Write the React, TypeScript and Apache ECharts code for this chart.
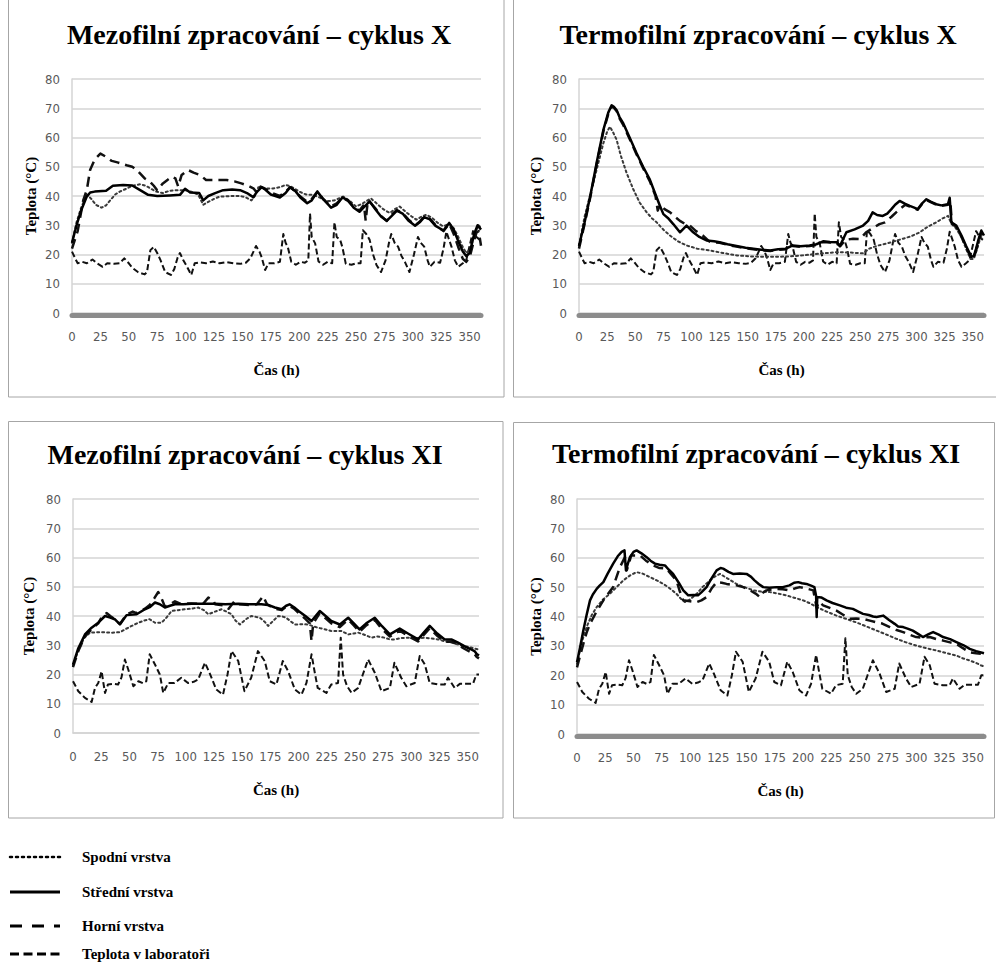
import React, { useEffect, useRef } from "react";
import * as echarts from "echarts";

type Pt = [number, number];

// ---------- DATA (hour, °C) ----------
const xTicks = [0, 25, 50, 75, 100, 125, 150, 175, 200, 225, 250, 275, 300, 325, 350];
const yTicks = [0, 10, 20, 30, 40, 50, 60, 70, 80];

const seriesNames = ["Spodní vrstva", "Střední vrstva", "Horní vrstva", "Teplota v laboratoři"];
const panelTitles = [
  "Mezofilní zpracování – cyklus X",
  "Termofilní zpracování – cyklus X",
  "Mezofilní zpracování – cyklus XI",
  "Termofilní zpracování – cyklus XI",
];
const xAxisTitle = "Čas (h)";
const yAxisTitle = "Teplota (°C)";

const labX: Pt[] = [[0,21],[3,18.5],[5,17],[9,17.5],[13,17],[18,18.3],[22,17],[27,15.8],[31,17],[37,16.8],[42,17],[46,18.7],[50,17],[53,15.5],[58,14],[64,13.2],[66,14],[69,21.5],[72,22.6],[75,20.5],[78,18],[82,14],[87,13],[90,15],[93,19],[95,20.5],[98,18],[101,16],[105,13],[108,17],[112,17.3],[118,17],[124,17.6],[130,17],[136,17.4],[142,17],[148,16.8],[153,17.2],[157,18.7],[162,22.9],[165,21],[167,19],[170,14.7],[173,17],[178,17],[183,17.5],[186,27],[188,24],[190,22.5],[193,17.5],[197,16.5],[201,17.5],[205,17.2],[208,18],[209.5,34],[211,26],[214,23.8],[217,17.6],[221,16.5],[225,17.5],[229,17],[231,31],[233,26],[236,25],[238,22.5],[241,16.8],[246,16.5],[250,17],[254,17],[256,28.3],[259,27],[262,25],[265,20],[268,16.4],[272,14],[276,18],[279,24],[281,27],[284,24],[287,22.7],[290,19.5],[293,17.5],[297,14],[301,20],[304.5,26],[307,24],[310,22.7],[313,18],[315,15.8],[319,17.5],[324,17.2],[327,22],[329.5,27.8],[332,25],[334,22.7],[337,18],[340,15.8],[344,17],[347,18],[350,23],[353,28],[356,26],[359,25]];

const labXI: Pt[] = [[0,17.7],[4.7,14.3],[10.6,12],[16.5,10.6],[19.5,15.4],[22.4,17.1],[25.4,21.1],[27,17],[28.4,13.7],[31,16.6],[36,16.8],[40,16.6],[43,19],[46,25.1],[49,21.7],[53.5,16],[58,17.7],[62,17],[65,17.7],[68,26.9],[72.7,23.4],[77,20],[80,13.7],[84.5,17.1],[90,17.1],[96,18.9],[102,17.1],[107,17.5],[111,18.3],[117,24],[121,20.6],[127,14.9],[133,13.1],[137,20],[140.6,28],[146.5,24.6],[152,14.3],[158,18.9],[164,28],[170,24.6],[174.5,17.7],[180.4,16.6],[186,24.6],[190.8,21.1],[196.7,14.9],[202.6,13.1],[207,17.1],[211.5,26.9],[214.4,20.6],[217,15.4],[224.7,13.7],[229,16.6],[235,17.1],[237.4,32.6],[239.5,20],[243,16],[247,13.7],[252.8,15.4],[257,20],[261.7,25.1],[267.6,20.6],[273.5,14.3],[281,15.4],[285,24],[291,18.9],[295.6,16],[303,17.1],[307.4,26.3],[312,23.4],[316.3,17.1],[323.7,16.6],[329.6,16.6],[332.5,18.9],[338.4,15.4],[343,16.8],[347,16.8],[354.7,16.8],[357.6,20],[360,20]];

const mezoXSpodni: Pt[] = [[0,24],[4,31],[8,36],[13,40.5],[17,39],[21,37],[26,36],[30,36.8],[34,38.7],[38,40.5],[42,41.5],[48,42.5],[53,43.5],[60,44],[65,43.5],[69,42.6],[74,41.5],[80,41],[86,41.8],[92,42],[99,42],[105,41.5],[111,40.5],[115.5,37],[120,38],[125,39],[130,39.8],[140,40],[148,40],[153,39.5],[158,38.5],[161,40],[164,43],[170,42.5],[177,42.6],[183,43],[188,43.8],[193,43.2],[200,41.5],[206,40.5],[212,40.4],[218,39.5],[224,38.2],[231,38.5],[238.6,39.8],[244,38.5],[250,36.4],[256,37.5],[263,39.2],[268,37.5],[274,35.5],[279.7,34.2],[284,35.5],[288.5,36.4],[294,34.5],[299,33],[303,31.9],[308,33],[312,33.6],[317,32.5],[322,30.8],[326.6,29.6],[332,30.5],[336,29],[340,26],[344,22.5],[347,20.5],[350,21.5],[353,25],[356,28.5],[358,30],[360,29]];
const mezoXStredni: Pt[] = [[0,24],[4,30],[8,35],[13,39.8],[16,41.2],[20,41.5],[30,41.8],[36,43.5],[45,43.8],[53,43.6],[60,42],[67,40.4],[75,40],[86,40.2],[95,40.4],[99.5,42.5],[104,41.2],[112,41],[115.5,38.5],[120,40],[126,41],[133,42],[141,42.2],[148,42],[154,41],[159.5,39.6],[163,41.5],[167,43],[170,42.2],[175,40.5],[183,39.5],[188,41],[192,43],[197,41.5],[201,39.5],[207,37.5],[211,38.5],[216,41.5],[221,39],[228,36],[233,37],[238,39.5],[243,38.5],[248,36],[253,34.6],[257,36.2],[262,38.2],[267,35.5],[272,33],[277,31.5],[281,33],[286,35],[291,34],[296,31.6],[302,29.8],[306,31],[310,32.8],[315,32],[320,29.8],[327,28.2],[332,30.8],[336,28.5],[340,24.5],[344,21],[347,19.5],[350,20.5],[354,27],[357,30],[360,28.5]];
const mezoXHorni: Pt[] = [[0,22],[5,28],[10,38.7],[13,42],[16,49],[20,52.5],[25,54.5],[30,53.4],[35,52],[40,51.5],[48,50.5],[53,50],[57,48.9],[64,46],[68.6,44.9],[72,43.5],[75,42],[80,44.3],[84,45.5],[88,46.6],[91,46],[93.5,43.2],[96.5,47.2],[102,48.9],[107,48],[112.6,47.2],[118,45.5],[125,45.5],[136,45.5],[143,45],[149,44.3],[155,43.5],[160,42.5],[163,41],[166,43.2],[170,42.5],[176,41],[183,40],[188,41.5],[192,43],[197,41.5],[201,39.8],[207,38],[211,39],[216,41.5],[221,39],[228,36.4],[233,37.5],[238,39.5],[243,38.3],[248,36.2],[253,35],[257,37],[258.5,31.5],[260,37],[262,38],[267,35.8],[272,33.2],[277,31.5],[281,33.5],[286,35.2],[291,34.2],[296,32],[302,30],[306,31.2],[310,33],[315,32.2],[320,30],[327,28],[332,30.5],[336,27],[340,22.5],[344,18.5],[347,17.5],[350,19],[353,23.5],[356,27.5],[358,28],[360,23]];

const termoXSpodni: Pt[] = [[0,23],[5,33],[9,39],[12.7,44.5],[17,51],[21.6,58],[25,62],[27.5,63.7],[30,62],[33.5,59.2],[37,54],[42.3,47.9],[48,42.5],[54,37.7],[60,34.5],[65,32.3],[69,31],[75,28.5],[80.8,26.5],[88,24.5],[95.6,23.1],[105,22],[116,21.4],[128,20.5],[140,19.7],[155,19.3],[170,19.2],[185,19.3],[199,19.7],[214,20.3],[229,20.8],[240,20.7],[252.5,20.4],[258,22],[265,23],[273,23.7],[280,24.5],[288,25.4],[295,26.2],[303,27.6],[310,29.5],[317.6,31],[323,32.3],[328,33.2],[331,30.5],[335,29],[340,26],[344,22],[348,18.5],[351,18.5],[354,22],[357,26],[360,25.5]];
const termoXStredni: Pt[] = [[0,23],[5,31],[10,40],[16,52],[21.6,62.5],[26,68.5],[29,71],[31,70.5],[33.5,69.3],[36,67],[39.4,64.8],[45,60],[51.2,54.6],[57,50],[63,45.6],[68,40.5],[72,36.6],[75,33.8],[79,32.5],[83.8,30.4],[89.7,27.6],[95.6,29.9],[101.5,27.6],[107,26],[113.4,24.8],[120,24.5],[125,24.2],[132,23.5],[140,22.9],[148,22.3],[155,22],[162,21.6],[170,21.4],[177,21.8],[184,22],[190,23.1],[197,22.8],[205,23.1],[211,23.5],[217,24.5],[223,24.3],[229,24.2],[232,23],[237.7,27.6],[245,28.6],[252.5,29.9],[257,31.5],[261,34.4],[265,33.5],[270,33.2],[274,34],[277.7,35.5],[281,37],[285,38.3],[290,37.3],[294,36.6],[298,36],[301,35.5],[305,37.5],[308.8,38.9],[313,38],[317.6,37.2],[322,36.8],[328,37.2],[329.5,39.4],[331,31],[335.4,29.9],[340,26.5],[344,23],[348.7,19.2],[351,19.5],[353,22],[355,25],[357.6,28.2],[360,26.5]];
const termoXHorni: Pt[] = [[0,22],[5,30.5],[10,39.5],[16,51.5],[21.6,62],[26,68],[29,70.5],[31,70.2],[33.5,69],[36,66.5],[39.4,64.2],[45,59.5],[51.2,54.2],[57,49.5],[63,45],[68,40],[70,35],[72,37],[76,35.5],[81,34.4],[85,33],[89.7,31.5],[94,30.5],[98.6,29.9],[104,28],[110,26.5],[116,24.4],[120,24.2],[125,24],[132,23.3],[140,22.7],[148,22.1],[155,21.8],[162,21.4],[170,21.2],[177,21.6],[184,21.8],[187,24],[190,22.9],[197,22.6],[205,22.9],[211,23.3],[217,24.3],[223,24.1],[229,24],[232,22.8],[237,25],[243.6,25.4],[250,25.3],[255,27.5],[261,29],[267,30.4],[272,31],[278,33],[285,35.5],[290,37],[294,36.4],[298,35.8],[301,35.3],[305,37.3],[308.8,38.6],[313,37.8],[317.6,37],[322,36.6],[328,37],[330,38.5],[331.5,30.5],[335.4,29.5],[340,26],[344,22.5],[348.7,18.8],[351,19],[353,21.5],[355,24.5],[357.6,27.5],[360,26]];

const mezoXISpodni: Pt[] = [[0,23],[5,28.5],[10,32.5],[15,34.3],[25,34.5],[35,34.3],[42,34.5],[46,35.4],[52,36.6],[58,37.7],[63,38.4],[68,38.9],[72.7,37.7],[78.5,37.7],[83,39.5],[87.4,41.7],[93,42],[99,42.3],[105,42.5],[111,42.9],[116,42],[120,40.6],[126,41.5],[131.7,42.3],[136,41.5],[140.6,40.6],[144,38.5],[148,37.1],[153,38.8],[158,40],[162,39.7],[165.7,39.4],[170,38],[173,36.6],[178,38.5],[182,40],[186,39.8],[189,39.4],[193,38.2],[196.7,37.1],[203,37.2],[208.5,37.1],[213,36.5],[217,36],[223,35.5],[229,34.9],[238,34.9],[244,33.7],[249,34],[253,34.3],[259,33.5],[264.6,32.6],[270,33],[276,32.6],[281,32],[285,32],[292,32.5],[300,32.6],[306,32.4],[312,32.6],[318,32.3],[323.7,32],[330,31.3],[335.5,30.9],[341,30.3],[347,29.7],[353,29.2],[360,28.5]];
const mezoXIStredni: Pt[] = [[0,23.4],[4.7,29],[10.6,33.7],[16.5,36],[22.4,37.7],[28.4,40],[33,39.5],[37,38.9],[41.6,37.1],[47.5,40.3],[56.4,40.6],[63.8,42.3],[68,43],[72.7,44.6],[77,44],[81.5,42.9],[86,43.5],[90.4,44],[98,44],[105,44.2],[115,44.2],[125.8,44.2],[135,44],[146.5,44.2],[156,44],[167,44],[173,43.8],[179,42.9],[185,42.3],[189,43.5],[192,44],[196,43],[200,41.7],[206,40],[211.5,38.3],[218.8,41.7],[224,40],[229,38.3],[236.6,37.1],[244,39.4],[249,37.5],[254,35.4],[260,37.5],[267.6,39.4],[274,36.5],[281,33.7],[289.7,35.7],[297,34],[306,32],[311,34.3],[316.3,36.6],[323,34],[329.6,32],[335.5,32],[341,31],[347,29.7],[352,28.8],[356,28],[358,27],[360,26.5]];
const mezoXIHorni: Pt[] = [[0,22.5],[4.7,28],[10.6,33],[16.5,35.5],[22.4,37.5],[26,40],[30,41],[33,40],[37,38.9],[41.6,37.3],[47.5,40.5],[53,41.5],[56.4,41],[63.8,42.5],[68,43.8],[72,46],[75.6,48.2],[78,46.5],[81.5,43.2],[86,44],[90.4,45],[95,44.2],[105,44.3],[115,44],[120,46.3],[124,45.5],[126,44],[135,43.5],[138,42.5],[143,45],[146.5,44],[156,43.8],[163,44],[168.6,46.8],[172,44],[179,42.5],[185,42],[189,43.2],[192,43.5],[196,42.5],[200,41],[206,39],[210,37.5],[211.5,31.4],[213,37.5],[218.8,41],[224,39.2],[229,37.5],[236.6,36.2],[244,38.8],[249,36.8],[254,34.6],[260,36.8],[267.6,38.6],[274,35.5],[281,33],[289.7,35],[297,33.2],[306,31.3],[311,33.5],[316.3,35.8],[323,33.2],[329.6,31.2],[335.5,31.3],[341,30.3],[347,28.8],[352,27.8],[356,27],[358,26],[360,25.5]];

const termoXISpodni: Pt[] = [[0,23.9],[4,31],[8.5,36.4],[13,40.5],[17.4,43.2],[23,45.8],[29,47.7],[35,50],[41,52.3],[47,54],[52.7,55.1],[58,54.6],[64.5,53.4],[70,52.4],[76.3,51.1],[82,49.6],[88,47.7],[92,46],[95.5,44.9],[100,45.8],[105.8,47.7],[111,50],[117.6,52.3],[122,53.6],[126.4,54.5],[133,53],[141,51.1],[148,50],[156,48.9],[163,48.5],[170.6,48.3],[178,47.8],[185,47.2],[192,46.4],[200,45.5],[206,44.5],[212,43.2],[220,41.8],[229.5,40.3],[238,39.2],[247,38],[256,36.6],[265,35.2],[274,33.8],[282.6,32.4],[291,31.2],[300,30.1],[309,29.2],[318,28.4],[327,27.5],[335.6,26.7],[341,25.8],[347.4,25],[353,24.2],[357.7,23.3],[360,23]];
const termoXIStredni: Pt[] = [[0,24.4],[3,30],[5.6,35.2],[8.5,40.5],[11.5,45.5],[14,47.5],[17.4,49.4],[20,50.5],[23.3,51.7],[27,54.5],[32,58],[36,60.5],[39.5,62],[42,62.5],[43.3,55.7],[45,58],[46.8,60.2],[50,62],[52.7,62.5],[57,61.5],[61.6,60.2],[65,59],[69,58],[73,57.6],[77.8,57.4],[81,56],[85,54.5],[90,51.5],[94,48.9],[98.4,47.2],[103,47.3],[107,47.2],[110,48.2],[114.6,50],[119,53],[123.5,55.7],[127,56.5],[129.3,56.3],[134,55.2],[138,54.5],[144,54.6],[150,54.5],[154,53.5],[157,52.3],[161,51],[164.7,50],[170,49.8],[176.5,50],[182,50],[188,50.6],[192,51.5],[195.6,51.7],[199,51.3],[203,51.1],[207,50.5],[210,50],[211.5,47],[212,39.8],[212.5,46.6],[216,46.5],[220.7,45.5],[226,44.6],[232.5,43.8],[238,43],[244,42.6],[248,41.8],[253,40.9],[258,40.5],[262,40],[265,39.8],[270.8,40.3],[276,38.8],[281,37.5],[284,36.6],[288.5,36.4],[293,35.8],[297,35.2],[302,34],[306,33],[311,34],[315,34.7],[320,33.8],[323.8,33],[330,32.3],[335.6,31.3],[342,30.2],[347.4,29],[353,28.2],[360,27.5]];
const termoXIHorni: Pt[] = [[0,22.7],[3,27],[5.6,30.7],[8.5,34.5],[11.5,37.5],[17,41.5],[23.3,45.5],[27,47.5],[32,50],[35,53.5],[38,56.8],[42.4,60.2],[44,55.7],[48,60.8],[55.7,60.8],[61,59],[67.5,57.4],[73,56.5],[79,56.3],[83,54.5],[88,52.3],[91,48.5],[94,45.5],[100,45.2],[105.8,44.9],[110,45.5],[114.6,46.6],[119,49.5],[123.5,51.7],[128,51.5],[132.3,51.1],[137,50.8],[141,50.6],[147,50],[153,48.9],[158,47.8],[161.8,46.6],[164,48],[167.6,48.9],[172,49.2],[176.5,49.4],[182,49.3],[188,48.9],[193,49.6],[197,50],[203,49.5],[209,48.9],[212,43],[214,45],[217.7,43.8],[223,43],[229.5,42],[235,40.7],[241.3,39.2],[247,39.3],[253,39.2],[259,38.6],[265,38],[270,37.6],[276.7,36.4],[282,35.5],[288.5,34.7],[294,33.8],[300,33],[306,32.8],[312,33],[318,32.3],[323.8,31.8],[330,31.2],[335.6,30.7],[341,29.3],[347.4,27.8],[353,27.5],[360,27.2]];

// ---------- STYLE ----------
const SERIF = "'Liberation Serif', 'Times New Roman', serif";
const NARROW = "'Liberation Sans Narrow', 'DejaVu Sans Condensed', 'Roboto Condensed', Roboto, sans-serif";
const LABEL_GRAY = "#595959";
const GRID_GRAY = "#d4d4d4";
const BORDER_GRAY = "#a6a6a6";

const lineStyles = [
  { color: "#3a3a3a", width: 2, type: [2, 3] as number[] },
  { color: "#000000", width: 2.5, type: "solid" as const },
  { color: "#111111", width: 2.5, type: [10, 6] as number[] },
  { color: "#111111", width: 2, type: [6, 3] as number[] },
];

interface PanelCfg {
  title: string;
  cx: number;
  cy: number;
  grid: { left: number; top: number; width: number; height: number };
  floor: boolean;
  yNameGap: number;
  data: Pt[][]; // spodni, stredni, horni, lab
}

const panels: PanelCfg[] = [
  { title: panelTitles[0], cx: 259, cy: 34, grid: { left: 72, top: 79, width: 409, height: 234 }, floor: true, yNameGap: 34, data: [mezoXSpodni, mezoXStredni, mezoXHorni, labX] },
  { title: panelTitles[1], cx: 758, cy: 34, grid: { left: 579, top: 79, width: 405, height: 234 }, floor: true, yNameGap: 36, data: [termoXSpodni, termoXStredni, termoXHorni, labX] },
  { title: panelTitles[2], cx: 245, cy: 454, grid: { left: 73, top: 499, width: 406, height: 234 }, floor: false, yNameGap: 37, data: [mezoXISpodni, mezoXIStredni, mezoXIHorni, labXI] },
  { title: panelTitles[3], cx: 756, cy: 453, grid: { left: 577, top: 499, width: 407, height: 235 }, floor: true, yNameGap: 34, data: [termoXISpodni, termoXIStredni, termoXIHorni, labXI] },
];

const legendRows = [857, 892, 926, 954];
const legendDash: (number[] | null)[] = [[2, 4], null, [12, 10], [9, 4.5]];

function buildOption() {
  const titles = panels.map((p) => ({
    text: p.title,
    left: p.cx,
    top: p.cy,
    textAlign: "center",
    textVerticalAlign: "middle",
    padding: 0,
    textStyle: { fontFamily: SERIF, fontWeight: "bold", fontSize: 28, color: "#000" },
  }));

  const grids = panels.map((p) => ({ ...p.grid, containLabel: false }));

  const xAxes = panels.map((p, i) => ({
    type: "value",
    gridIndex: i,
    min: xTicks[0],
    max: 360,
    interval: xTicks[1] - xTicks[0],
    offset: p.floor ? 2 : 0,
    name: xAxisTitle,
    nameLocation: "middle",
    nameGap: p.floor ? 47 : 49,
    nameTextStyle: { fontFamily: SERIF, fontWeight: "bold", fontSize: 15, color: "#000" },
    axisLine: {
      show: true,
      onZero: false,
      lineStyle: p.floor ? { color: "#8c8c8c", width: 5 } : { color: GRID_GRAY, width: 1.5 },
    },
    axisTick: { show: false },
    splitLine: { show: false },
    axisLabel: {
      showMaxLabel: false,
      margin: p.floor ? 15 : 17,
      color: LABEL_GRAY,
      fontSize: 13,
      fontFamily: NARROW,
    },
  }));

  const yAxes = panels.map((p, i) => ({
    type: "value",
    gridIndex: i,
    min: yTicks[0],
    max: yTicks[yTicks.length - 1],
    interval: yTicks[1] - yTicks[0],
    name: yAxisTitle,
    nameLocation: "middle",
    nameRotate: 90,
    nameGap: p.yNameGap,
    nameTextStyle: { fontFamily: SERIF, fontWeight: "bold", fontSize: 15, color: "#000" },
    axisLine: { show: true, lineStyle: { color: GRID_GRAY, width: 1.5 } },
    axisTick: { show: false },
    splitLine: { show: true, lineStyle: { color: GRID_GRAY, width: 1.5 } },
    axisLabel: { margin: 12, color: LABEL_GRAY, fontSize: 13, fontFamily: NARROW },
  }));

  const order = [3, 0, 2, 1]; // draw lab first, solid last
  const series: any[] = [];
  panels.forEach((p, i) => {
    order.forEach((k, zi) => {
      series.push({
        type: "line",
        name: seriesNames[k],
        xAxisIndex: i,
        yAxisIndex: i,
        data: p.data[k],
        showSymbol: false,
        symbol: "none",
        smooth: false,
        z: 2 + zi,
        lineStyle: { ...lineStyles[k], cap: k === 0 ? "round" : "butt", join: "round" },
        emphasis: { disabled: true },
      });
    });
  });

  const graphics: any[] = [
    { type: "rect", silent: true, shape: { x: 8.5, y: -10, width: 495.5, height: 407 }, style: { fill: "none", stroke: BORDER_GRAY, lineWidth: 1 } },
    { type: "rect", silent: true, shape: { x: 513.5, y: -10, width: 500, height: 407 }, style: { fill: "none", stroke: BORDER_GRAY, lineWidth: 1 } },
    { type: "rect", silent: true, shape: { x: 8.5, y: 421.5, width: 494.5, height: 396.5 }, style: { fill: "none", stroke: BORDER_GRAY, lineWidth: 1 } },
    { type: "rect", silent: true, shape: { x: 513.5, y: 422.5, width: 481, height: 395.5 }, style: { fill: "none", stroke: BORDER_GRAY, lineWidth: 1 } },
  ];
  legendRows.forEach((y, k) => {
    graphics.push({
      type: "line",
      silent: true,
      shape: { x1: 10, y1: y, x2: 60, y2: y },
      style: {
        stroke: "#000",
        lineWidth: k === 0 ? 2.5 : 3,
        lineDash: legendDash[k] || undefined,
        lineCap: k === 0 ? "round" : "butt",
      },
    });
    graphics.push({
      type: "text",
      silent: true,
      x: 82,
      y,
      style: {
        text: seriesNames[k],
        fontFamily: SERIF,
        fontWeight: "bold",
        fontSize: 15,
        fill: "#000",
        verticalAlign: "middle",
        align: "left",
      },
    });
  });

  return {
    animation: false,
    backgroundColor: "#ffffff",
    title: titles,
    grid: grids,
    xAxis: xAxes,
    yAxis: yAxes,
    series,
    graphic: graphics,
  };
}

export default function App() {
  const ref = useRef<HTMLDivElement>(null);
  useEffect(() => {
    if (!ref.current) return;
    const chart = echarts.init(ref.current, undefined, { renderer: "svg" });
    chart.setOption(buildOption() as any);
    return () => chart.dispose();
  }, []);
  return (
    <div
      ref={ref}
      style={{ position: "absolute", left: 0, top: 0, width: 996, height: 965, background: "#fff" }}
    />
  );
}
